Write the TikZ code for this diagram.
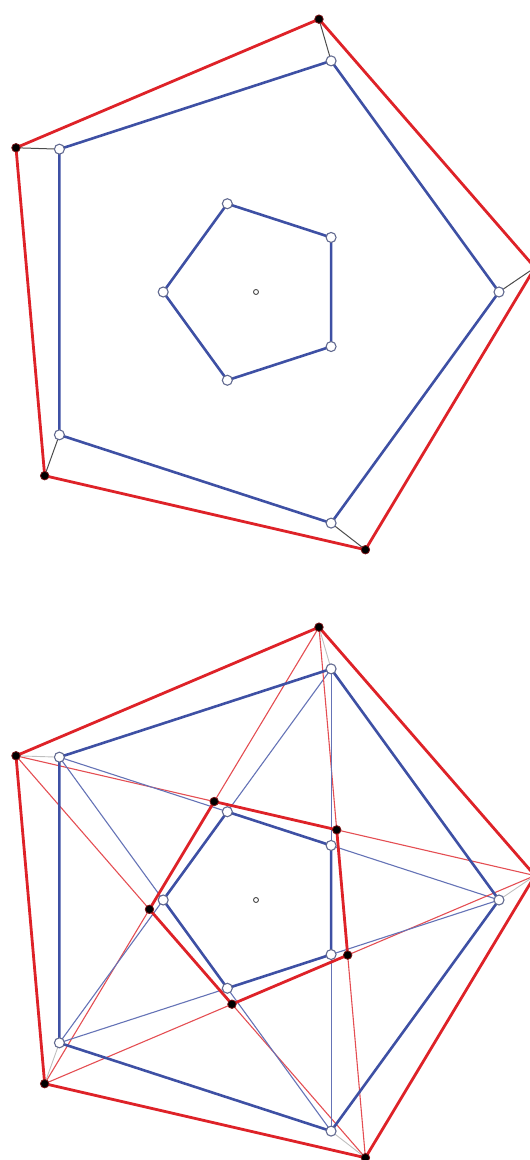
\documentclass[tikz,border=0pt]{standalone}
\usetikzlibrary{calc}
\definecolor{myred}{RGB}{222,34,40}
\definecolor{myblue}{RGB}{62,80,164}
\tikzset{
  thickred/.style={myred, line width=2.8pt, line join=round},
  thickblue/.style={myblue, line width=2.6pt, line join=round},
  thinred/.style={myred!80, line width=1.1pt},
  thinblue/.style={myblue!80, line width=1.1pt},
  link/.style={black!70, line width=1pt},
  linklight/.style={black!25, line width=0.9pt},
  wdot/.style={circle, draw=myblue!45!gray, fill=white, line width=1.1pt, inner sep=0pt, minimum size=10pt},
  bdot/.style={circle, fill=black, draw=myred!55!black, line width=0.8pt, inner sep=0pt, minimum size=8.5pt},
  cdot/.style={circle, draw=black!70, fill=white, line width=0.9pt, inner sep=0pt, minimum size=5pt}
}
\begin{document}
\begin{tikzpicture}[x=1pt,y=1pt]
\useasboundingbox (0,0) rectangle (530,1160);
% ---------- top diagram ----------
\begin{scope}[shift={(256,868)}]
  \coordinate (tc) at (0,0);
  \foreach \k in {0,...,4}{
    \coordinate (tb\k) at ({72*\k}:243);
    \coordinate (tr\k) at ({72*\k+5}:280);
    \coordinate (ti\k) at ({72*\k+36}:92.8);
  }
\end{scope}
\foreach \k in {0,...,4}{ \draw[link] (tr\k) -- (tb\k); }
\draw[thickred] (tr0)--(tr1)--(tr2)--(tr3)--(tr4)--cycle;
\draw[thickblue] (tb0)--(tb1)--(tb2)--(tb3)--(tb4)--cycle;
\draw[thickblue] (ti0)--(ti1)--(ti2)--(ti3)--(ti4)--cycle;
\foreach \k in {0,...,4}{
  \node[wdot] (tbn\k) at (tb\k) {};
  \node[wdot] (tin\k) at (ti\k) {};
  \node[bdot] (trn\k) at (tr\k) {};
}
\node[cdot] (tcn) at (tc) {};
% ---------- bottom diagram ----------
\begin{scope}[shift={(256,260)}]
  \coordinate (bc) at (0,0);
  \foreach \k in {0,...,4}{
    \coordinate (bb\k) at ({72*\k}:243);
    \coordinate (br\k) at ({72*\k+5}:280);
    \coordinate (bi\k) at ({72*\k+36}:92.8);
    \coordinate (bj\k) at ({72*\k+41}:106.95);
  }
\end{scope}
\foreach \k in {0,...,4}{
  \pgfmathtruncatemacro\j{mod(\k+2,5)}
  \draw[thinred] (br\k) -- (br\j);
  \draw[thinblue] (bb\k) -- (bb\j);
}
\foreach \k in {0,...,4}{ \draw[linklight] (br\k) -- (bb\k); }
\draw[thickred] (br0)--(br1)--(br2)--(br3)--(br4)--cycle;
\draw[thickblue] (bb0)--(bb1)--(bb2)--(bb3)--(bb4)--cycle;
\draw[thickblue] (bi0)--(bi1)--(bi2)--(bi3)--(bi4)--cycle;
\draw[thickred] (bj0)--(bj1)--(bj2)--(bj3)--(bj4)--cycle;
\foreach \k in {0,...,4}{
  \node[wdot] (bbn\k) at (bb\k) {};
  \node[wdot] (bin\k) at (bi\k) {};
  \node[bdot] (brn\k) at (br\k) {};
  \node[bdot] (bjn\k) at (bj\k) {};
}
\node[cdot] (bcn) at (bc) {};
\end{tikzpicture}
\end{document}
